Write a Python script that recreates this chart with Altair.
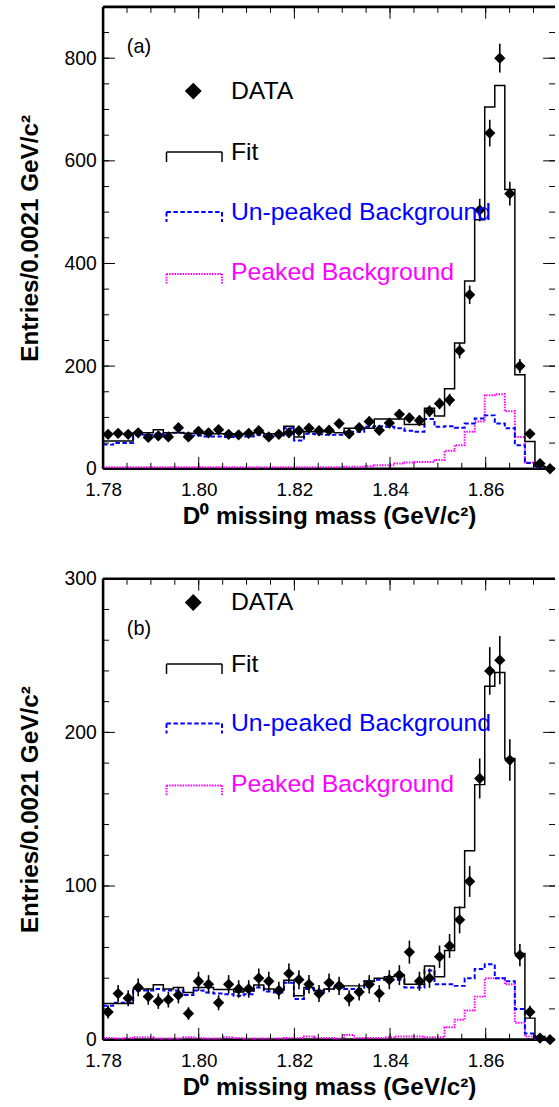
import altair as alt
import pandas as pd

FONT = "Liberation Sans"

# ---------------- data ----------------
BIN_START = 1.78
BIN_WIDTH = 0.0021

DATA_A = [67, 69, 67, 70, 61, 64, 62, 80, 62, 73,
          70, 76, 67, 66, 69, 74, 62, 67, 70, 74,
          79, 74, 75, 88, 68, 80, 92, 75, 89, 106,
          99, 94, 112, 127, 134, 230, 339, 504, 654, 800,
          536, 200, 68, 10, 0]
ERR_A = [8, 8, 8, 8, 8, 8, 8, 9, 8, 9,
         8, 9, 8, 8, 8, 9, 8, 8, 8, 9,
         9, 9, 9, 9, 8, 9, 10, 9, 9, 10,
         10, 10, 11, 11, 12, 15, 18, 22, 26, 28,
         23, 14, 8, 3, 0]
FIT_A = [54, 54, 54, 70, 70, 76, 70, 70, 69, 69,
         68, 68, 68, 68, 68, 70, 68, 68, 83, 62,
         72, 72, 72, 70, 79, 79, 79, 97, 97, 97,
         86, 86, 118, 103, 156, 245, 366, 485, 705, 747,
         544, 183, 53, 5, 1]
UNPEAK_A = [47, 50, 50, 66, 66, 68, 66, 70, 65, 65,
            63, 63, 62, 63, 63, 66, 64, 65, 79, 55,
            68, 67, 66, 66, 72, 72, 82, 83, 82, 79,
            74, 72, 97, 82, 83, 80, 88, 98, 104, 88,
            79, 46, 11, 3, 1]
PEAK_A = [3, 3, 3, 3, 3, 3, 3, 3, 3, 3,
          3, 3, 3, 3, 3, 3, 3, 3, 3, 3,
          3, 3, 3, 3, 4, 4, 5, 7, 7, 10,
          12, 13, 13, 17, 35, 46, 72, 92, 143, 145,
          112, 62, 12, 3, 1]

DATA_B = [18, 30, 27, 34, 28, 25, 26, 29, 17, 38,
          36, 24, 36, 33, 33, 40, 38, 32, 43, 39,
          36, 30, 37, 35, 27, 31, 36, 30, 39, 42,
          57, 38, 40, 54, 61, 78, 103, 170, 240, 247,
          182, 55, 18, 1, 0]
ERR_B = [4.2, 5.5, 5.2, 5.8, 5.3, 5.0, 5.1, 5.4, 4.1, 6.2,
         6.0, 4.9, 6.0, 5.7, 5.7, 6.3, 6.2, 5.7, 6.6, 6.2,
         6.0, 5.5, 6.1, 5.9, 5.2, 5.6, 6.0, 5.5, 6.2, 6.5,
         7.5, 6.2, 6.3, 7.3, 7.8, 8.8, 10.1, 13.0, 15.5, 15.7,
         13.5, 7.3, 4.1, 1.0, 0]
FIT_B = [23.6, 23.6, 23.6, 33, 33, 35.7, 33, 34, 30.7, 34,
         34, 32.7, 32.7, 31, 31.8, 35.5, 33, 32.7, 38.7, 28.6,
         34, 32, 33, 34, 35, 35, 38, 40, 41, 42,
         36, 36, 48, 41, 58, 86, 123, 166, 230, 239,
         183, 56, 14, 2, 0]
UNPEAK_B = [22, 24, 24, 32, 32, 33, 32, 32, 29, 32,
            30.7, 30, 29.6, 28.6, 29.6, 34, 31.4, 30.7, 37, 26.4,
            33, 30.7, 33, 34, 33, 33, 38, 39, 39, 39,
            34, 34, 45, 36, 36, 35, 40, 46, 49, 40,
            38, 20, 4, 1, 0]
PEAK_B = [1, 0.8, 1, 1.5, 1.5, 0.8, 0.8, 0.8, 1.5, 1,
          0.8, 0.8, 1.5, 1, 0.8, 0.8, 0.8, 0.8, 1, 1,
          2, 1, 1, 0.8, 3, 1, 1, 1, 1.5, 2,
          2, 2, 1.5, 1.5, 8, 13, 19, 28, 40, 40,
          36, 11, 2, 0.8, 0]

# ---------------- axes / ticks ----------------
X_DOMAIN = [1.78, 1.8745]
X_LABELS = [1.78, 1.80, 1.82, 1.84, 1.86]
X_MINOR = [round(1.78 + 0.005 * k, 3) for k in range(19)]

Y_A_DOMAIN = [0, 900]
Y_A_LABELS = [0, 200, 400, 600, 800]
Y_A_MINOR = list(range(0, 901, 50))
Y_B_DOMAIN = [0, 300]
Y_B_LABELS = [0, 100, 200, 300]
Y_B_MINOR = list(range(0, 301, 20))

X_TITLE = "D\u2070 missing mass (GeV/c\u00b2)"
Y_TITLE = "Entries/0.0021 GeV/c\u00b2"
LEGEND_LABELS = ["DATA", "Fit", "Un-peaked Background", "Peaked Background"]
LEGEND_COLORS = ["#000000", "#000000", "#0000ff", "#ff00ff"]

# ---------------- layout (pixels) ----------------
W = 456
H_A = 466
H_B = 465
LEG_A = {"tag": "(a)", "tag_y": 41, "rows": [85, 146.5, 207, 268]}
LEG_B = {"tag": "(b)", "tag_y": 51, "rows": [24, 86, 146, 207]}

ONE = pd.DataFrame({"k": [0]})


def vrule(x, y1, y2, color="black", width=1.0, dash=None):
    kw = dict(color=color, strokeWidth=width)
    if dash:
        kw["strokeDash"] = dash
    return alt.Chart(ONE).mark_rule(**kw).encode(
        x=alt.value(x), y=alt.value(y1), y2=alt.value(y2))


def hrule(x1, x2, y, color="black", width=1.0, dash=None):
    kw = dict(color=color, strokeWidth=width)
    if dash:
        kw["strokeDash"] = dash
    return alt.Chart(ONE).mark_rule(**kw).encode(
        x=alt.value(x1), x2=alt.value(x2), y=alt.value(y))


def label(x, y, text, size, color="black", align="left"):
    return alt.Chart(ONE).mark_text(
        font=FONT, fontSize=size, color=color, align=align, baseline="middle"
    ).encode(x=alt.value(x), y=alt.value(y), text=alt.value(text))


def build_panel(data, err, fit, unp, peak, ydom, ylabels, yminor, ymajor_step, H, leg):
    n = len(data)
    centers = [BIN_START + BIN_WIDTH * (i + 0.5) for i in range(n)]
    edges = [BIN_START + BIN_WIDTH * i for i in range(n + 1)]
    pts = pd.DataFrame({
        "x": centers, "y": data,
        "lo": [max(d - e, 0) for d, e in zip(data, err)],
        "hi": [d + e for d, e in zip(data, err)],
    })
    hist = pd.DataFrame({
        "x": edges,
        "fit": fit + fit[-1:],
        "unp": unp + unp[-1:],
        "peak": peak + peak[-1:],
    })
    xs = alt.Scale(domain=X_DOMAIN, nice=False, zero=False)
    ys = alt.Scale(domain=ydom, nice=False, zero=False)
    xax = alt.Axis(values=X_LABELS, format=".2f", title=X_TITLE, ticks=False, tickSize=0,
                   domain=False, grid=False, labelFont=FONT, labelFontSize=19,
                   labelColor="black", labelPadding=12, labelFlush=False, labelOverlap=False,
                   titleFont=FONT, titleFontSize=24.5, titleFontWeight="bold",
                   titleColor="black", titleBaseline="alphabetic", titleY=55)
    yax = alt.Axis(values=ylabels, format="d", title=Y_TITLE, ticks=False, tickSize=0,
                   domain=False, grid=False, labelFont=FONT, labelFontSize=19.5,
                   labelColor="black", labelPadding=7, labelFlush=False, labelOverlap=False,
                   titleFont=FONT, titleFontSize=24.5, titleFontWeight="bold",
                   titleColor="black", titleAngle=270, titleBaseline="alphabetic",
                   titleX=-66, titleY=H / 2)

    def X(f):
        return alt.X(f"{f}:Q", scale=xs, axis=xax)

    def Y(f):
        return alt.Y(f"{f}:Q", scale=ys, axis=yax)

    layers = []
    # frame (left, top, bottom) drawn first, so the curves sit on top of it
    layers.append(vrule(0, 0, H, width=2.6))
    layers.append(hrule(0, W, 0, width=2.6))
    layers.append(hrule(0, W, H, width=2.6))
    # histograms
    layers.append(alt.Chart(hist).mark_line(interpolate="step-after", color="#ff00ff",
                                            strokeWidth=2, strokeDash=[1.5, 1.2]).encode(x=X("x"), y=Y("peak")))
    layers.append(alt.Chart(hist).mark_line(interpolate="step-after", color="#0000ff",
                                            strokeWidth=2, strokeDash=[4.5, 2.5]).encode(x=X("x"), y=Y("unp")))
    layers.append(alt.Chart(hist).mark_line(interpolate="step-after", color="black",
                                            strokeWidth=1.5).encode(x=X("x"), y=Y("fit")))
    # data with error bars
    layers.append(alt.Chart(pts).mark_rule(color="black", strokeWidth=1.6).encode(
        x=X("x"), y=Y("lo"), y2="hi"))
    layers.append(alt.Chart(pts).mark_point(shape="diamond", filled=True, size=130,
                                            color="black", opacity=1).encode(x=X("x"), y=Y("y")))
    # inward ticks
    xmaj = pd.DataFrame({"t": X_LABELS})
    xmin = pd.DataFrame({"t": X_MINOR})
    ymaj = pd.DataFrame({"t": [v for v in yminor if v % ymajor_step == 0]})
    ymin = pd.DataFrame({"t": yminor})
    for df, L in ((xmaj, 12), (xmin, 6)):
        layers.append(alt.Chart(df).mark_rule(color="black", strokeWidth=1).encode(
            x=X("t"), y=alt.value(H), y2=alt.value(H - L)))
        layers.append(alt.Chart(df).mark_rule(color="black", strokeWidth=1).encode(
            x=X("t"), y=alt.value(0), y2=alt.value(L)))
    for df, L in ((ymaj, 12), (ymin, 6)):
        layers.append(alt.Chart(df).mark_rule(color="black", strokeWidth=1).encode(
            y=Y("t"), x=alt.value(0), x2=alt.value(L)))
        layers.append(alt.Chart(df).mark_rule(color="black", strokeWidth=1).encode(
            y=Y("t"), x=alt.value(W), x2=alt.value(W - L)))
    # legend
    rows = leg["rows"]
    layers.append(label(24, leg["tag_y"], leg["tag"], 20))
    layers.append(alt.Chart(ONE).mark_point(shape="diamond", filled=True, size=290,
                                            color="black", opacity=1).encode(
        x=alt.value(91), y=alt.value(rows[0])))
    styles = [None, dict(width=1.5), dict(width=2, dash=[4.5, 2.5]), dict(width=2, dash=[1.5, 1.2])]
    offs = [0, 0, 0, 1.5]
    for i, (txt, col) in enumerate(zip(LEGEND_LABELS, LEGEND_COLORS)):
        layers.append(label(129, rows[i], txt, 25, col))
        if styles[i] is None:
            continue
        yl = rows[i] + offs[i]
        layers.append(hrule(64, 120, yl, color=col, **styles[i]))
        layers.append(vrule(64, yl, yl + 10, color=col, **styles[i]))
        layers.append(vrule(120, yl, yl + 10, color=col, **styles[i]))

    return alt.layer(*layers).properties(width=W, height=H)


panel_a = build_panel(DATA_A, ERR_A, FIT_A, UNPEAK_A, PEAK_A, Y_A_DOMAIN, Y_A_LABELS,
                      Y_A_MINOR, 200, H_A, LEG_A)
panel_b = build_panel(DATA_B, ERR_B, FIT_B, UNPEAK_B, PEAK_B, Y_B_DOMAIN, Y_B_LABELS,
                      Y_B_MINOR, 100, H_B, LEG_B)

chart = alt.vconcat(panel_a, panel_b, spacing=41).properties(
    padding={"left": 18, "top": 0, "right": 0, "bottom": 0},
    background="white",
).configure_view(strokeWidth=0)

chart.save("out.html", embed_options={"renderer": "svg", "actions": False})
